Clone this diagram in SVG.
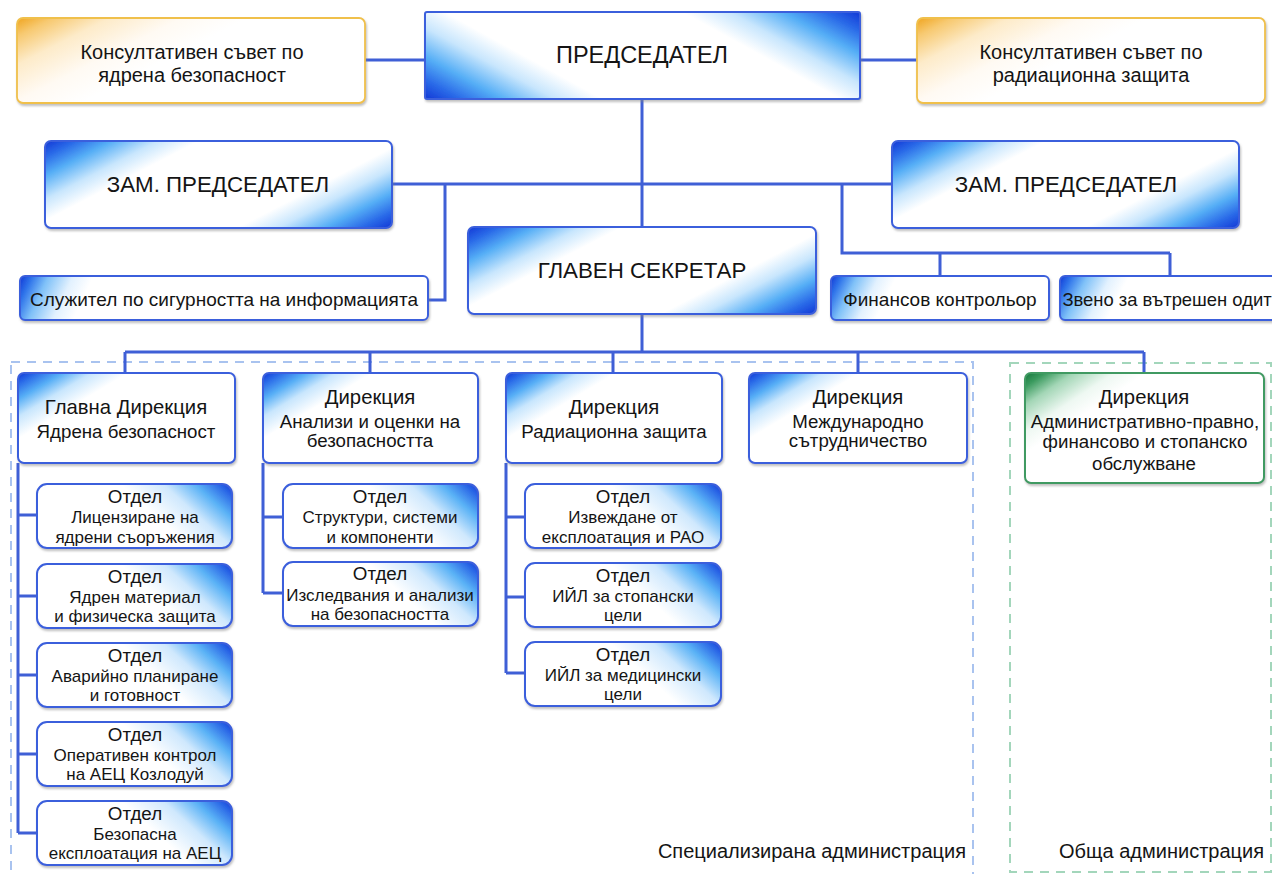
<svg xmlns="http://www.w3.org/2000/svg" width="1272" height="874" viewBox="0 0 1272 874">
<style>
text{font-family:"Liberation Sans",Arial,sans-serif;fill:#141414;text-anchor:middle}
.box{stroke:#3b5fdc;stroke-width:2;filter:url(#sh)}
.adv{stroke:#f0c04c;stroke-width:1.8;fill:url(#gAdv);filter:url(#sh)}
.conn{fill:none;stroke:#3f5fd6;stroke-width:3}
.dashB{fill:none;stroke:#a9c3ef;stroke-width:2;stroke-dasharray:9 7}
.dashG{fill:none;stroke:#a3d6bb;stroke-width:2;stroke-dasharray:9 7}
.f23{font-size:23.5px}.f22{font-size:22.3px}.fa{font-size:20px}.fs{font-size:19px}.fz{font-size:18.4px}
.dt{font-size:20.3px}.db{font-size:18.7px}.ct{font-size:18.8px}.cb{font-size:17px}.lbl{font-size:20px}
</style>
<defs>
<filter id="sh" x="-5%" y="-10%" width="110%" height="130%"><feDropShadow dx="1" dy="2" stdDeviation="0.8" flood-color="#808080" flood-opacity="0.5"/></filter>
<linearGradient id="gPres" x1="0" y1="1" x2="1.204" y2="0.562"><stop offset="0" stop-color="#1238d6"/><stop offset="0.06" stop-color="#2a6ae8"/><stop offset="0.13" stop-color="#55aef6"/><stop offset="0.22" stop-color="#c8e6fd"/><stop offset="0.3" stop-color="#fff"/><stop offset="0.7" stop-color="#fff"/><stop offset="0.78" stop-color="#c8e6fd"/><stop offset="0.87" stop-color="#55aef6"/><stop offset="0.94" stop-color="#2a6ae8"/><stop offset="1" stop-color="#1238d6"/></linearGradient>
<linearGradient id="gTwo" x1="0" y1="0" x2="1.2" y2="0.58"><stop offset="0" stop-color="#1238d6"/><stop offset="0.06" stop-color="#2a6ae8"/><stop offset="0.13" stop-color="#55aef6"/><stop offset="0.22" stop-color="#c8e6fd"/><stop offset="0.3" stop-color="#fff"/><stop offset="0.7" stop-color="#fff"/><stop offset="0.78" stop-color="#c8e6fd"/><stop offset="0.87" stop-color="#55aef6"/><stop offset="0.94" stop-color="#2a6ae8"/><stop offset="1" stop-color="#1238d6"/></linearGradient>
<linearGradient id="gDir" x1="0" y1="0" x2="1.143" y2="0.795"><stop offset="0" stop-color="#1238d6"/><stop offset="0.05" stop-color="#2a6ae8"/><stop offset="0.12" stop-color="#56aef6"/><stop offset="0.2" stop-color="#c8e6fd"/><stop offset="0.3" stop-color="#fff"/></linearGradient>
<linearGradient id="gGreen" x1="0" y1="0" x2="1.143" y2="0.795"><stop offset="0" stop-color="#17773d"/><stop offset="0.05" stop-color="#3a9a5e"/><stop offset="0.12" stop-color="#a3d6b6"/><stop offset="0.22" stop-color="#eef8f2"/><stop offset="0.3" stop-color="#fff"/></linearGradient>
<linearGradient id="gAdv" x1="0" y1="0" x2="1.2" y2="0.58"><stop offset="0" stop-color="#f0a41e"/><stop offset="0.07" stop-color="#f7c970"/><stop offset="0.18" stop-color="#fdebc9"/><stop offset="0.32" stop-color="#fffaf3"/><stop offset="0.45" stop-color="#fff"/></linearGradient>
<linearGradient id="gChild" x1="0" y1="1" x2="1.203" y2="0.569"><stop offset="0" stop-color="#fff"/><stop offset="0.58" stop-color="#fff"/><stop offset="0.74" stop-color="#cfe8fd"/><stop offset="0.86" stop-color="#5ab2f6"/><stop offset="0.95" stop-color="#2a66e6"/><stop offset="1" stop-color="#1238d6"/></linearGradient>
<linearGradient id="gSecW" x1="0" y1="0" x2="1" y2="0.05"><stop offset="0" stop-color="#1238d6"/><stop offset="0.03" stop-color="#2f74ea"/><stop offset="0.07" stop-color="#7fc1f8"/><stop offset="0.13" stop-color="#e2f1fe"/><stop offset="0.18" stop-color="#fff"/></linearGradient>
<linearGradient id="gSecN" x1="0" y1="0" x2="1" y2="0.1"><stop offset="0" stop-color="#1238d6"/><stop offset="0.05" stop-color="#2f74ea"/><stop offset="0.12" stop-color="#7fc1f8"/><stop offset="0.22" stop-color="#e2f1fe"/><stop offset="0.3" stop-color="#fff"/></linearGradient>
</defs>
<rect width="1272" height="874" fill="#fff"/>
<g id="containers">
<rect class="dashB" x="11" y="362" width="962" height="516"/>
<rect class="dashG" x="1010" y="363" width="261" height="509"/>
<text class="lbl" x="966" y="858" style="text-anchor:end">Специализирана администрация</text>
<text class="lbl" x="1264" y="858" style="text-anchor:end">Обща администрация</text>
</g>
<g id="connectors">
<path class="conn" d="M365 60H425M860 60H917"/>
<path class="conn" d="M642 99V227"/>
<path class="conn" d="M392 184H892"/>
<path class="conn" d="M445 184V300H428"/>
<path class="conn" d="M842 184V253H1170M940 253V276M1170 253V276"/>
<path class="conn" d="M642 314V352M125 352H1144M125 352V373M370 352V373M613 352V373M858 352V373M1144 352V373"/>
<path class="conn" d="M18 463V833M18 515H38M18 596H38M18 675H38M18 754H38M18 833H38"/>
<path class="conn" d="M263 463V593M263 517H283M263 593H283"/>
<path class="conn" d="M506 463V673M506 517H525M506 597H525M506 673H525"/>
</g>
<g id="advisory-nuclear"><rect class="adv" x="17" y="18" width="348" height="85" rx="6"/><text class="fa" x="192" y="59">Консултативен съвет по</text><text class="fa" x="192" y="82">ядрена безопасност</text></g>
<g id="chairman"><rect class="box" x="425" y="12" width="435" height="87" rx="2" fill="url(#gPres)"/><text class="f23" x="642" y="63">ПРЕДСЕДАТЕЛ</text></g>
<g id="advisory-radiation"><rect class="adv" x="917" y="18" width="348" height="85" rx="6"/><text class="fa" x="1091" y="59">Консултативен съвет по</text><text class="fa" x="1091" y="82">радиационна защита</text></g>
<g id="deputy-left"><rect class="box" x="45" y="141" width="347" height="87" rx="6" fill="url(#gTwo)"/><text class="f22" x="218" y="192">ЗАМ. ПРЕДСЕДАТЕЛ</text></g>
<g id="deputy-right"><rect class="box" x="892" y="141" width="347" height="87" rx="6" fill="url(#gTwo)"/><text class="f22" x="1066" y="192">ЗАМ. ПРЕДСЕДАТЕЛ</text></g>
<g id="secretary"><rect class="box" x="468" y="227" width="348" height="87" rx="6" fill="url(#gTwo)"/><text class="f22" x="642" y="278">ГЛАВЕН СЕКРЕТАР</text></g>
<g id="security-officer"><rect class="box" x="20" y="276" width="408" height="44" rx="5" fill="url(#gSecW)"/><text class="fs" x="224" y="306">Служител по сигурността на информацията</text></g>
<g id="fin-controller"><rect class="box" x="831" y="276" width="218" height="44" rx="5" fill="url(#gSecN)"/><text class="fs" x="940" y="306">Финансов контрольор</text></g>
<g id="internal-audit"><rect class="box" x="1060" y="276" width="230" height="44" rx="5" fill="url(#gSecN)"/><text class="fz" x="1167" y="306">Звено за вътрешен одит</text></g>
<g id="dir-nuclear"><rect class="box" x="18" y="373" width="217" height="90" rx="6" fill="url(#gDir)"/><text class="dt" x="126" y="414">Главна Дирекция</text><text class="db" x="126" y="438">Ядрена безопасност</text></g>
<g id="dir-analysis"><rect class="box" x="263" y="373" width="215" height="90" rx="6" fill="url(#gDir)"/><text class="dt" x="370" y="404">Дирекция</text><text class="db" x="370" y="428">Анализи и оценки на</text><text class="db" x="370" y="447">безопасността</text></g>
<g id="dir-radiation"><rect class="box" x="506" y="373" width="216" height="90" rx="6" fill="url(#gDir)"/><text class="dt" x="614" y="414">Дирекция</text><text class="db" x="614" y="438">Радиационна защита</text></g>
<g id="dir-international"><rect class="box" x="749" y="373" width="218" height="90" rx="6" fill="url(#gDir)"/><text class="dt" x="858" y="404">Дирекция</text><text class="db" x="858" y="428">Международно</text><text class="db" x="858" y="447">сътрудничество</text></g>
<g id="dir-admin"><rect class="box" x="1025" y="373" width="239" height="110" rx="6" fill="url(#gGreen)" style="stroke:#3f9a62"/><text class="dt" x="1144" y="404">Дирекция</text><text class="db" x="1145" y="428">Административно-правно,</text><text class="db" x="1145" y="448">финансово и стопанско</text><text class="db" x="1144" y="470">обслужване</text></g>
<g id="dept-licensing"><rect class="box" x="37" y="484" width="195" height="64" rx="10" fill="url(#gChild)"/><text class="ct" x="135" y="503">Отдел</text><text class="cb" x="135" y="523">Лицензиране на</text><text class="cb" x="135" y="543">ядрени съоръжения</text></g>
<g id="dept-material"><rect class="box" x="37" y="564" width="195" height="64" rx="10" fill="url(#gChild)"/><text class="ct" x="135" y="583">Отдел</text><text class="cb" x="135" y="603">Ядрен материал</text><text class="cb" x="135" y="622">и физическа защита</text></g>
<g id="dept-emergency"><rect class="box" x="37" y="643" width="195" height="64" rx="10" fill="url(#gChild)"/><text class="ct" x="135" y="662">Отдел</text><text class="cb" x="135" y="682">Аварийно планиране</text><text class="cb" x="135" y="701">и готовност</text></g>
<g id="dept-operational"><rect class="box" x="37" y="722" width="195" height="64" rx="10" fill="url(#gChild)"/><text class="ct" x="135" y="741">Отдел</text><text class="cb" x="135" y="761">Оперативен контрол</text><text class="cb" x="135" y="780">на АЕЦ Козлодуй</text></g>
<g id="dept-safe-operation"><rect class="box" x="37" y="801" width="195" height="64" rx="10" fill="url(#gChild)"/><text class="ct" x="135" y="820">Отдел</text><text class="cb" x="135" y="840">Безопасна</text><text class="cb" x="135" y="859">експлоатация на АЕЦ</text></g>
<g id="dept-structures"><rect class="box" x="283" y="484" width="195" height="64" rx="10" fill="url(#gChild)"/><text class="ct" x="380" y="503">Отдел</text><text class="cb" x="380" y="523">Структури, системи</text><text class="cb" x="380" y="543">и компоненти</text></g>
<g id="dept-research"><rect class="box" x="283" y="562" width="195" height="64" rx="10" fill="url(#gChild)"/><text class="ct" x="380" y="580">Отдел</text><text class="cb" x="380" y="601">Изследвания и анализи</text><text class="cb" x="380" y="620">на безопасността</text></g>
<g id="dept-decommissioning"><rect class="box" x="525" y="484" width="196" height="64" rx="10" fill="url(#gChild)"/><text class="ct" x="623" y="503">Отдел</text><text class="cb" x="623" y="523">Извеждане от</text><text class="cb" x="623" y="543">експлоатация и РАО</text></g>
<g id="dept-irs-industrial"><rect class="box" x="525" y="563" width="196" height="64" rx="10" fill="url(#gChild)"/><text class="ct" x="623" y="582">Отдел</text><text class="cb" x="623" y="602">ИЙЛ за стопански</text><text class="cb" x="623" y="621">цели</text></g>
<g id="dept-irs-medical"><rect class="box" x="525" y="642" width="196" height="64" rx="10" fill="url(#gChild)"/><text class="ct" x="623" y="661">Отдел</text><text class="cb" x="623" y="681">ИЙЛ за медицински</text><text class="cb" x="623" y="700">цели</text></g>
</svg>
